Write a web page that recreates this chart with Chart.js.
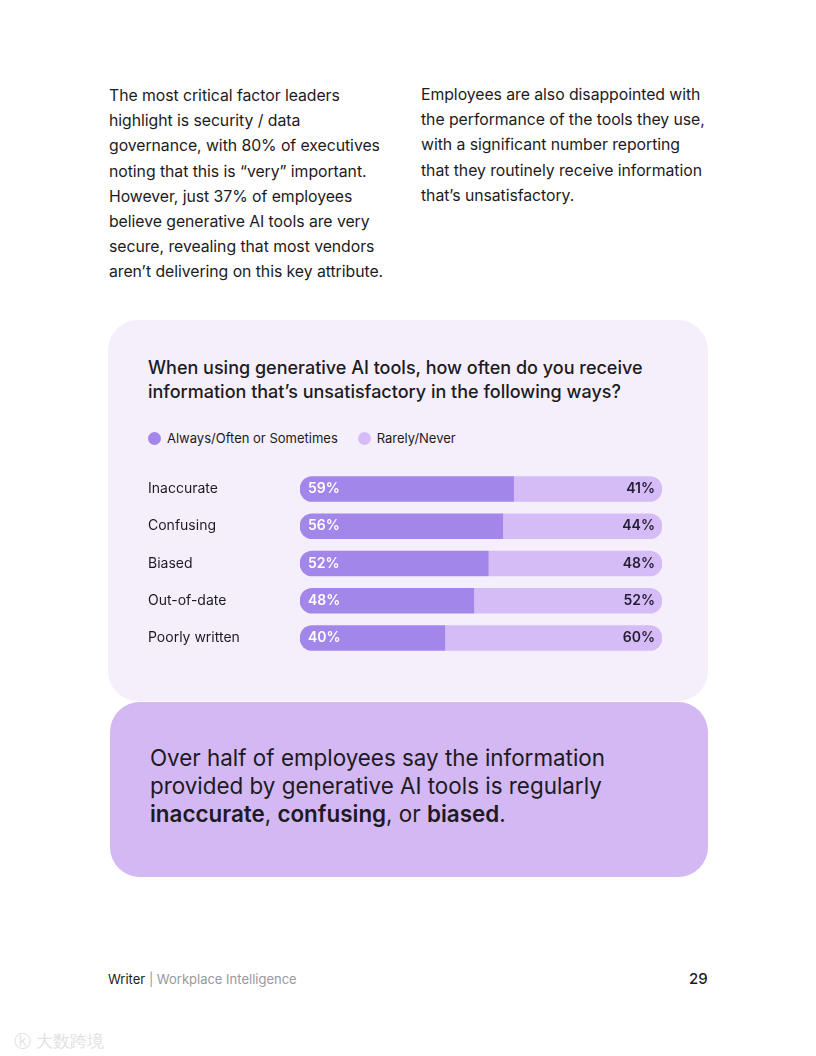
<!DOCTYPE html>
<html>
<head>
<meta charset="utf-8">
<script src="https://cdn.jsdelivr.net/npm/chart.js@4.4.1/dist/chart.umd.min.js"></script>
<style>
  body { margin: 0; background: #fff; font-family: "Inter", "Lato", sans-serif; color: #1d1b22; }
  .page { position: relative; width: 816px; height: 1056px; }
  .col { position: absolute; top: 83px; font-size: 15.8px; line-height: 25.2px; letter-spacing: -0.05px; }
  .card { position: absolute; left: 108px; top: 320px; width: 600px; height: 381px; background: #f5effc; border-radius: 30px; }
  .title { position: absolute; left: 148px; top: 356px; font-size: 18px; line-height: 24px; font-weight: 500; }
  .legend { position: absolute; left: 148px; top: 430px; font-size: 13px; display: flex; gap: 20px; }
  .legend span { display: inline-flex; align-items: center; }
  .legend i { display: inline-block; width: 13px; height: 13px; border-radius: 50%; margin-right: 6px; }
  #chartWrap { position: absolute; left: 140px; top: 462px; width: 540px; height: 203px; }
  .callout { position: absolute; left: 110px; top: 702px; width: 598px; height: 175px; background: #d3b8f4; border-radius: 30px; }
  .callout p { position: absolute; left: 40px; top: 42px; margin: 0; font-size: 22.4px; line-height: 28px; font-weight: 400; }
  .footer { position: absolute; left: 108px; top: 971px; font-size: 13px; }
  .footer .grey { color: #9a97a0; }
  .pnum { position: absolute; left: 689px; top: 969px; font-size: 15px; font-weight: 500; }
  .wm { position: absolute; left: 14px; top: 1030px; font-size: 17px; color: #e2e2e2; }
</style>
</head>
<body>
<div class="page">
  <div class="col" style="left:109px;width:300px;">The most critical factor leaders<br>highlight is security / data<br>governance, with 80% of executives<br>noting that this is “very” important.<br>However, just 37% of employees<br>believe generative AI tools are very<br>secure, revealing that most vendors<br>aren’t delivering on this key attribute.</div>
  <div class="col" style="left:421px;width:300px;top:82px;">Employees are also disappointed with<br>the performance of the tools they use,<br>with a significant number reporting<br>that they routinely receive information<br>that’s unsatisfactory.</div>

  <div class="card"></div>
  <div class="title">When using generative AI tools, how often do you receive<br>information that’s unsatisfactory in the following ways?</div>
  <div class="legend" id="legend"></div>
  <div id="chartWrap"><canvas id="grafico"></canvas></div>

  <div class="callout"><p>Over half of employees say the information<br>provided by generative AI tools is regularly<br><b style="font-weight:600">inaccurate</b>, <b style="font-weight:600">confusing</b>, or <b style="font-weight:600">biased</b>.</p></div>

  <div class="footer">Writer <span class="grey">| Workplace Intelligence</span></div>
  <div class="pnum">29</div>
  <div class="wm">ⓚ 大数跨境</div>
</div>

<script>
// Dados do gráfico
const categorias = ['Inaccurate', 'Confusing', 'Biased', 'Out-of-date', 'Poorly written'];
const nomesSeries = ['Always/Often or Sometimes', 'Rarely/Never'];
const valoresFrequente = [59, 56, 52, 48, 40];
const valoresRaro = [41, 44, 48, 52, 60];
const cores = ['#a386ea', '#d6bcf6'];

// Legenda em HTML
const legenda = document.getElementById('legend');
nomesSeries.forEach((nome, i) => {
    legenda.insertAdjacentHTML('beforeend', `<span><i style="background:${cores[i]}"></i>${nome}</span>`);
});

// Plugin para escrever os percentuais dentro das barras
const rotulosBarras = {
    id: 'rotulosBarras',
    afterDatasetsDraw(chart) {
        const ctx = chart.ctx;
        ctx.save();
        ctx.font = '600 14px Inter, sans-serif';
        ctx.textBaseline = 'middle';
        chart.data.datasets.forEach((ds, i) => {
            chart.getDatasetMeta(i).data.forEach((bar, j) => {
                const texto = ds.data[j] + '%';
                if (i === 0) {
                    ctx.fillStyle = '#ffffff';
                    ctx.textAlign = 'left';
                    ctx.fillText(texto, bar.base + 8, bar.y);
                } else {
                    ctx.fillStyle = '#231c33';
                    ctx.textAlign = 'right';
                    ctx.fillText(texto, bar.x - 7, bar.y);
                }
            });
        });
        ctx.restore();
    }
};

new Chart(document.getElementById('grafico'), {
    type: 'bar',
    data: {
        labels: categorias,
        datasets: [{
            label: nomesSeries[0],
            data: valoresFrequente,
            backgroundColor: cores[0],
            borderSkipped: false,
            borderRadius: { topLeft: 13, bottomLeft: 13, topRight: 0, bottomRight: 0 },
            barThickness: 25
        }, {
            label: nomesSeries[1],
            data: valoresRaro,
            backgroundColor: cores[1],
            borderSkipped: false,
            borderRadius: { topLeft: 0, bottomLeft: 0, topRight: 13, bottomRight: 13 },
            barThickness: 25
        }]
    },
    plugins: [rotulosBarras],
    options: {
        indexAxis: 'y',
        responsive: true,
        maintainAspectRatio: false,
        animation: false,
        layout: { padding: { left: 8, right: 18, top: 0, bottom: 0 } },
        plugins: {
            legend: { display: false },
            tooltip: { enabled: false }
        },
        scales: {
            x: {
                stacked: true,
                min: 0,
                max: 100,
                display: false
            },
            y: {
                stacked: true,
                grid: { display: false },
                border: { display: false },
                ticks: {
                    crossAlign: 'far',
                    color: '#1d1b22',
                    font: { family: 'Inter', size: 14 },
                    padding: 0
                },
                afterFit(scale) { scale.width = 152; }
            }
        }
    }
});
</script>
</body>
</html>
